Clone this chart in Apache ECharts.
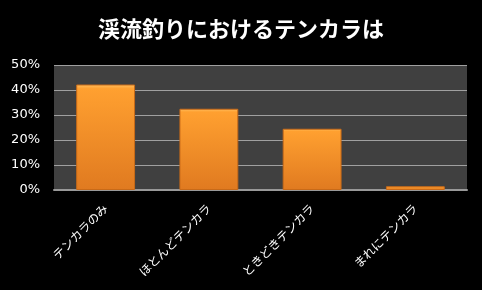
<!DOCTYPE html>
<html><head><meta charset="utf-8">
<script src="https://cdn.jsdelivr.net/npm/echarts@6/dist/echarts.min.js"></script>
<style>html,body{margin:0;padding:0;background:#000;}#c{width:482px;height:290px;}</style>
</head><body><div id="c"></div>
<script>
const titleText = '渓流釣りにおけるテンカラは';
const categories = ['テンカラのみ', 'ほとんどテンカラ', 'ときどきテンカラ', 'まれにテンカラ'];
const values = [0.422, 0.325, 0.245, 0.015];
const yTicks = [0, 0.1, 0.2, 0.3, 0.4, 0.5];

const chart = echarts.init(document.getElementById('c'));
chart.setOption({
  backgroundColor: '#000',
  animation: false,
  title: {
    text: titleText, left: 'center', top: 13,
    textStyle: {color: '#fff', fontSize: 22, fontWeight: 'bold', fontFamily: 'Noto Sans CJK JP'}
  },
  grid: {left: 54, right: 15, top: 65, bottom: 100, show: true, backgroundColor: '#404040', borderWidth: 0},
  xAxis: {
    type: 'category', data: categories,
    axisLine: {lineStyle: {color: '#999', width: 2}},
    axisTick: {show: false},
    axisLabel: {color: '#fff', rotate: 45, fontSize: 12, margin: 16, fontFamily: 'Noto Sans CJK JP'}
  },
  yAxis: {
    type: 'value', min: yTicks[0], max: yTicks[yTicks.length - 1], interval: 0.1,
    axisLine: {show: false}, axisTick: {show: false},
    splitLine: {lineStyle: {color: '#a0a0a0', width: 1}},
    axisLabel: {color: '#fff', fontSize: 13, margin: 14, fontFamily: 'Verdana, DejaVu Sans',
      formatter: v => Math.round(v * 100) + '%'}
  },
  series: [{
    type: 'bar', data: values, barWidth: '57%',
    itemStyle: {
      color: new echarts.graphic.LinearGradient(0, 0, 0, 1, [
        {offset: 0, color: '#ffc060'},
        {offset: 0.04, color: '#ffa030'},
        {offset: 1, color: '#e07a20'}
      ]),
      borderColor: '#c86a18', borderWidth: 1
    }
  }]
});
</script></body></html>
